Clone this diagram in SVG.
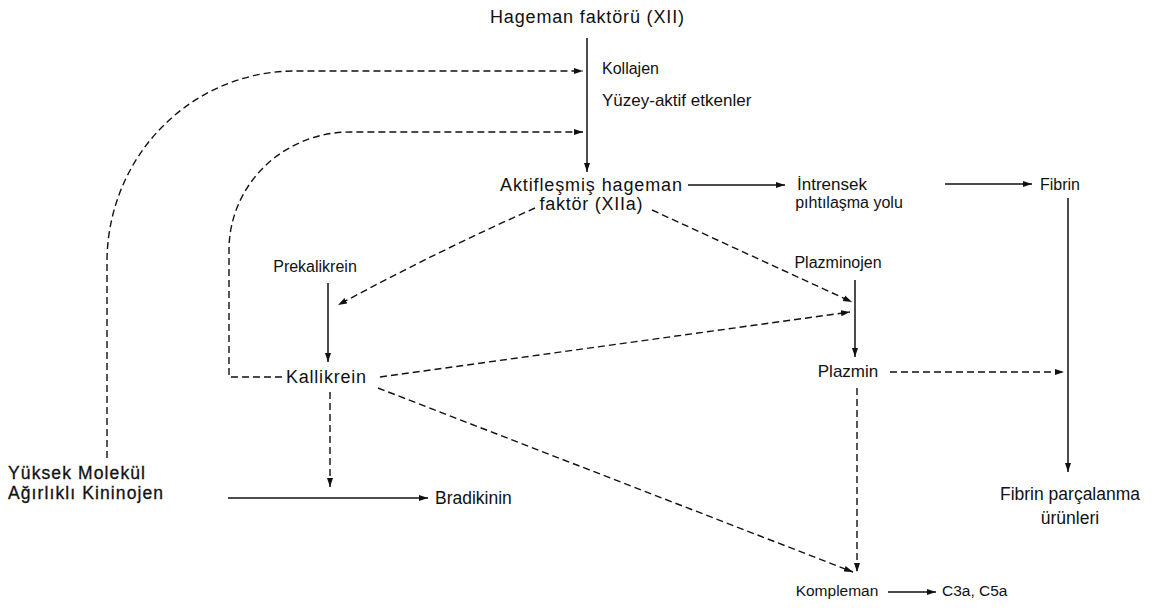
<svg xmlns="http://www.w3.org/2000/svg" width="1172" height="608" viewBox="0 0 1172 608">
<style>
text{font-family:"Liberation Sans",Arial,sans-serif;font-size:16px;fill:#111}
.m{text-anchor:middle}
.l{font-size:17.5px}
.b{font-size:17.5px;stroke:#111;stroke-width:0.3}
.sm{font-size:15.5px}
.s{fill:none;stroke:#111;stroke-width:1.5}
.d{fill:none;stroke:#111;stroke-width:1.4;stroke-dasharray:7 4}
</style>
<defs>
<marker id="ah" markerWidth="10" markerHeight="8" refX="9" refY="4" orient="auto" markerUnits="userSpaceOnUse">
<path d="M0,1 L9,4 L0,7 Z" fill="#111"/>
</marker>
</defs>
<rect width="1172" height="608" fill="#fff"/>
<g id="connectors">
<path class="s" d="M587,38 V172" marker-end="url(#ah)"/>
<path class="d" d="M107,458 V262 A188,191 0 0 1 295,71 H583" marker-end="url(#ah)"/>
<path class="d" d="M282,377 H229 V250 A121,118 0 0 1 350,132 H583" marker-end="url(#ah)"/>
<path class="s" d="M688,185 H785" marker-end="url(#ah)"/>
<path class="s" d="M945,184 H1032" marker-end="url(#ah)"/>
<path class="s" d="M1068,198 V472" marker-end="url(#ah)"/>
<path class="d" d="M535,208 Q440,250 338,305" marker-end="url(#ah)"/>
<path class="d" d="M652,210 L852,302" marker-end="url(#ah)"/>
<path class="d" d="M380,377 L850,312" marker-end="url(#ah)"/>
<path class="s" d="M328,283 V362" marker-end="url(#ah)"/>
<path class="s" d="M855,280 V357" marker-end="url(#ah)"/>
<path class="d" d="M890,372 H1064" marker-end="url(#ah)"/>
<path class="d" d="M857,388 V572" marker-end="url(#ah)"/>
<path class="d" d="M378,388 L853,572" marker-end="url(#ah)"/>
<path class="d" d="M330,392 V487" marker-end="url(#ah)"/>
<path class="s" d="M228,498 H428" marker-end="url(#ah)"/>
<path class="s" d="M888,592 H936" marker-end="url(#ah)"/>
</g>
<g id="n-xii"><text class="m" x="587" y="23" style="font-size:18px" textLength="194" lengthAdjust="spacing">Hageman faktörü (XII)</text></g>
<g id="n-kollajen"><text x="602" y="74">Kollajen</text><text x="602" y="106" style="font-size:17px">Yüzey-aktif etkenler</text></g>
<g id="n-xiia"><text class="m" x="591" y="191" style="font-size:18px" textLength="182" lengthAdjust="spacing">Aktifleşmiş hageman</text><text class="m" x="591" y="210" style="font-size:18px" textLength="103" lengthAdjust="spacing">faktör (XIIa)</text></g>
<g id="n-intrensek"><text class="m" x="832" y="190" style="font-size:17px">İntrensek</text><text class="m" x="849" y="208">pıhtılaşma yolu</text></g>
<g id="n-fibrin"><text x="1040" y="190">Fibrin</text></g>
<g id="n-prekalikrein"><text class="m" x="315" y="272">Prekalikrein</text></g>
<g id="n-plazminojen"><text class="m" x="838" y="268">Plazminojen</text></g>
<g id="n-kallikrein"><text class="m" x="326" y="383" style="font-size:18px" textLength="80" lengthAdjust="spacing">Kallikrein</text></g>
<g id="n-plazmin"><text class="m" x="848" y="377" style="font-size:17px">Plazmin</text></g>
<g id="n-hmwk"><text class="b" x="8" y="479" textLength="137" lengthAdjust="spacing">Yüksek Molekül</text><text class="b" x="8" y="499" textLength="155" lengthAdjust="spacing">Ağırlıklı Kininojen</text></g>
<g id="n-bradikinin"><text class="l" x="435" y="504">Bradikinin</text></g>
<g id="n-fdp"><text class="m l" x="1070" y="500">Fibrin parçalanma</text><text class="m l" x="1070" y="524">ürünleri</text></g>
<g id="n-kompleman"><text class="m sm" x="837" y="596">Kompleman</text></g>
<g id="n-c3a"><text class="sm" x="942" y="596">C3a, C5a</text></g>
</svg>
